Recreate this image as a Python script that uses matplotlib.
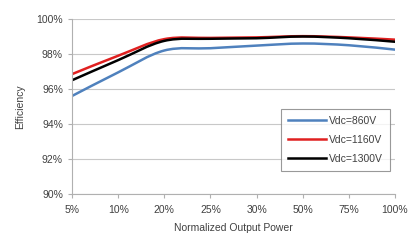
import matplotlib
matplotlib.use('agg')

from matplotlib import pyplot as plt
from matplotlib.path import Path
from matplotlib.patches import PathPatch
from matplotlib.lines import Line2D
import numpy as np

categories = ['5%', '10%', '20%', '25%', '30%', '50%', '75%', '100%']
eff_860 = [95.6, 96.95, 98.2, 98.33, 98.48, 98.6, 98.5, 98.25]
eff_1160 = [96.85, 97.9, 98.85, 98.92, 98.95, 99.02, 98.95, 98.82]
eff_1300 = [96.5, 97.65, 98.75, 98.87, 98.9, 99.0, 98.9, 98.7]

series = [('Vdc=860V', eff_860, '#4f81bd'),
          ('Vdc=1160V', eff_1160, '#e02020'),
          ('Vdc=1300V', eff_1300, '#000000')]


def smooth_path(xs, ys, t=0.5):
    # excel-like smoothing: bezier segments with catmull-rom control points
    pts = list(zip(xs, ys))
    verts = [pts[0]]
    codes = [Path.MOVETO]
    n = len(pts)
    for i in range(n - 1):
        p0 = pts[i - 1] if i > 0 else pts[i]
        p1 = pts[i]
        p2 = pts[i + 1]
        p3 = pts[i + 2] if i + 2 < n else pts[i + 1]
        c1 = (p1[0] + (p2[0] - p0[0]) * t / 3, p1[1] + (p2[1] - p0[1]) * t / 3)
        c2 = (p2[0] - (p3[0] - p1[0]) * t / 3, p2[1] - (p3[1] - p1[1]) * t / 3)
        verts += [c1, c2, p2]
        codes += [Path.CURVE4] * 3
    return Path(verts, codes)


plt.rcParams['font.family'] = ['Liberation Sans', 'DejaVu Sans']

fig = plt.figure(figsize=(4.2, 2.4), dpi=100)
ax = fig.add_axes([72 / 420, 46 / 240, 323 / 420, 175 / 240])

x = np.arange(len(categories))
handles = []
for label, vals, color in series:
    ax.add_patch(PathPatch(smooth_path(x, vals), facecolor='none',
                           edgecolor=color, lw=1.8, capstyle='round'))
    handles.append(Line2D([], [], color=color, lw=1.8, label=label))

ax.set_xlim(0, len(categories) - 1)
ax.set_ylim(90, 100)
ax.set_xticks(x)
ax.set_xticklabels(categories)
ax.set_yticks(np.arange(90, 101, 2))
ax.set_yticklabels(['%d%%' % v for v in range(90, 101, 2)])

ax.grid(True, axis='y', color='#c8c8c8', lw=0.8)
ax.set_axisbelow(True)
for side in ['top', 'right']:
    ax.spines[side].set_visible(False)
for side in ['left', 'bottom']:
    ax.spines[side].set_color('#b0b0b0')
ax.tick_params(axis='both', colors='#b0b0b0', labelcolor='#404040',
               labelsize=7.5, length=3)
ax.tick_params(axis='x', pad=5)

ax.set_xlabel('Normalized Output Power', fontsize=7.5, color='#404040', labelpad=6)
ax.set_ylabel('Efficiency', fontsize=7.5, color='#404040', labelpad=8)

leg = ax.legend(handles=handles, loc='lower right', bbox_to_anchor=(0.985, 0.131),
                fontsize=7.5, frameon=True, fancybox=False, handlelength=3.6,
                handletextpad=0.3, borderpad=0.7, borderaxespad=0,
                labelspacing=0.85)
leg.get_frame().set_edgecolor('#808080')
leg.get_frame().set_linewidth(0.8)
for txt in leg.get_texts():
    txt.set_color('#404040')

plt.savefig('out.png', dpi=100)
